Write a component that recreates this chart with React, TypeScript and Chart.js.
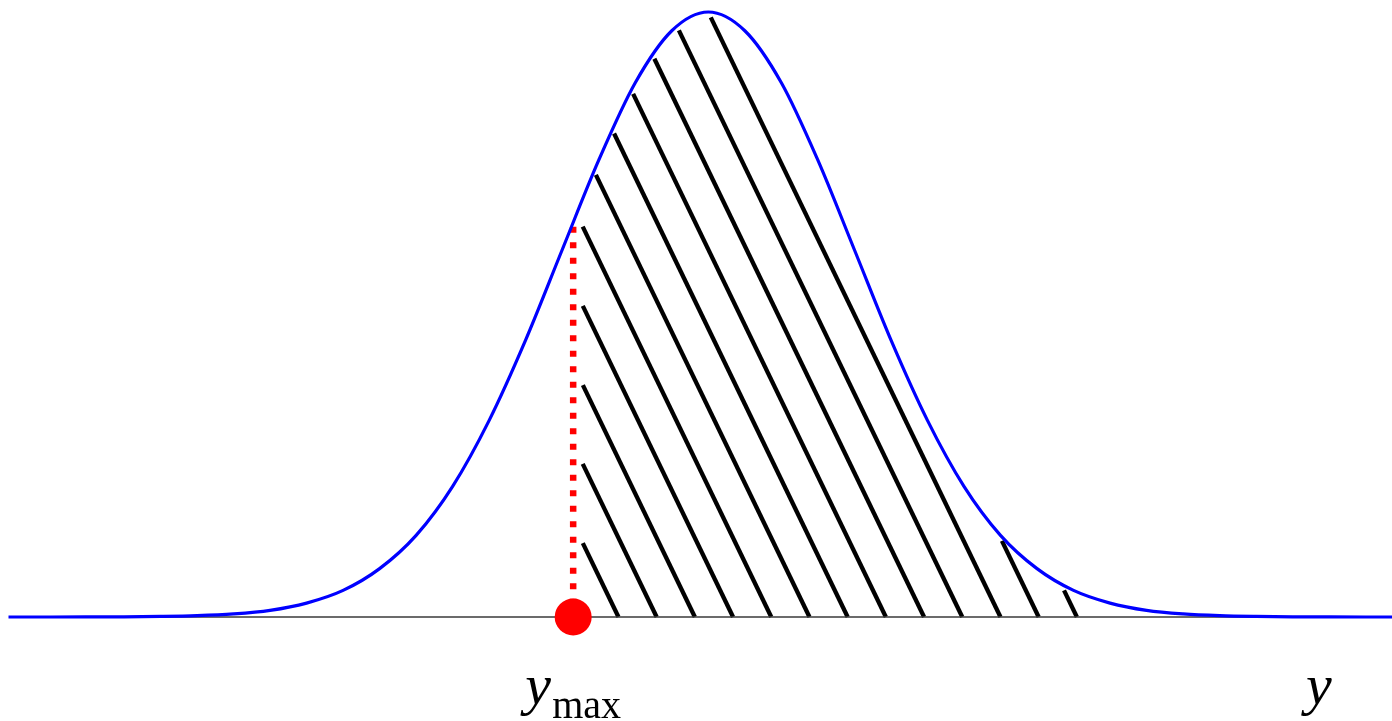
import React, { useEffect, useRef } from 'react';
import { Chart, registerables } from 'chart.js';

Chart.register(...registerables);

// Density curve (x in units of the curve's spread, peak at 0)
const curveX: number[] = [
  -5, -4.75, -4.5, -4.25, -4, -3.75, -3.5, -3.25, -3, -2.75, -2.5, -2.25, -2, -1.75, -1.5, -1.25, -1, -0.75, -0.5, -0.25,
  0, 0.25, 0.5, 0.75, 1, 1.25, 1.5, 1.75, 2, 2.25, 2.5, 2.75, 3, 3.25, 3.5, 3.75, 4, 4.25, 4.5, 4.75, 5,
];
const curveY: number[] = [
  0, 0, 0, 0.0001, 0.0003, 0.0009, 0.0022, 0.0051, 0.011, 0.023, 0.044, 0.08, 0.135, 0.216, 0.325, 0.458, 0.607, 0.755, 0.883, 0.969,
  1.0, 0.969, 0.883, 0.755, 0.607, 0.458, 0.325, 0.216, 0.135, 0.08, 0.044, 0.023, 0.011, 0.0051, 0.0022, 0.0009, 0.0003, 0.0001, 0, 0, 0,
];

// Marked position y_max and the curve height there
const yMaxPosition = -0.925;
const yMaxHeight = 0.645;

// Horizontal axis line
const baselineX: number[] = [-5, 5];
const baselineY: number[] = [0, 0];

// Text labels
const markerLabelMain = 'y';
const markerLabelSub = 'max';
const axisLabel = 'y';

// Axis range
const xMin = -4.78;
const xMax = 4.68;

const hatchPlugin = {
  id: 'hatchPlugin',
  beforeDatasetsDraw(chart: any) {
    const meta = chart.getDatasetMeta(1);
    const pts = meta.data as any[];
    if (!pts || !pts.length) return;
    const ctx = chart.ctx as CanvasRenderingContext2D;
    const xs = chart.scales.x;
    const ys = chart.scales.y;
    const area = chart.chartArea;
    const xr = xs.getPixelForValue(yMaxPosition);
    const y0 = ys.getPixelForValue(0);

    const region = new Path2D();
    region.moveTo(pts[0].x, y0 + 2);
    region.lineTo(pts[0].x, pts[0].y);
    for (let i = 1; i < pts.length; i++) {
      const p = pts[i - 1];
      const q = pts[i];
      if (p.cp2x !== undefined && q.cp1x !== undefined) {
        region.bezierCurveTo(p.cp2x, p.cp2y, q.cp1x, q.cp1y, q.x, q.y);
      } else {
        region.lineTo(q.x, q.y);
      }
    }
    region.lineTo(pts[pts.length - 1].x, y0 + 2);
    region.closePath();

    const spacing = 38.2;
    const slope = 2.07;
    const firstOffset = 45.3;
    const leftGap = 9.5;
    const marginX = 1;
    const marginY = 5;
    const minHeight = 20;
    const norm = Math.hypot(1, slope);
    const dx = -1 / norm;
    const dy = -slope / norm;

    ctx.save();
    ctx.strokeStyle = '#000000';
    ctx.lineWidth = 4.3;
    ctx.lineCap = 'butt';
    for (let k = 0; k < 60; k++) {
      const bx = xr + firstOffset + k * spacing;
      if (bx > area.right + 20) break;
      let ex = bx;
      let ey = y0;
      for (let t = 0.5; t < 900; t += 0.5) {
        const x = bx + dx * t;
        const y = y0 + dy * t;
        if (x < xr + leftGap || !ctx.isPointInPath(region, x - marginX, y - marginY)) break;
        ex = x;
        ey = y;
      }
      if (y0 - ey < minHeight) continue;
      ctx.beginPath();
      ctx.moveTo(bx, y0);
      ctx.lineTo(ex, ey);
      ctx.stroke();
    }
    ctx.restore();
  },
  afterDraw(chart: any) {
    const ctx = chart.ctx as CanvasRenderingContext2D;
    const xs = chart.scales.x;
    const area = chart.chartArea;
    const xr = xs.getPixelForValue(yMaxPosition);
    ctx.save();
    ctx.fillStyle = '#000000';
    ctx.textAlign = 'left';
    ctx.textBaseline = 'alphabetic';
    ctx.font = 'italic 58px "Liberation Serif", "Times New Roman", serif';
    ctx.fillText(markerLabelMain, xr - 48, 704);
    ctx.font = '40px "Liberation Serif", "Times New Roman", serif';
    ctx.fillText(markerLabelSub, xr - 21, 718);
    ctx.font = 'italic 58px "Liberation Serif", "Times New Roman", serif';
    ctx.fillText(axisLabel, area.right - 86, 704);
    ctx.restore();
  },
};

export default function App() {
  const ref = useRef<HTMLCanvasElement | null>(null);

  useEffect(() => {
    if (!ref.current) return;
    const chart = new Chart(ref.current, {
      type: 'line',
      data: {
        datasets: [
          {
            label: 'marker',
            data: [{ x: yMaxPosition, y: 0 }],
            showLine: false,
            pointRadius: 18.5,
            pointBackgroundColor: '#ff0000',
            pointBorderWidth: 0,
            pointBorderColor: '#ff0000',
            borderColor: '#ff0000',
            order: 0,
            clip: false as any,
          },
          {
            label: 'density',
            data: curveX.map((x, i) => ({ x, y: curveY[i] })),
            borderColor: '#0000ff',
            borderWidth: 3.2,
            pointRadius: 0,
            fill: false,
            cubicInterpolationMode: 'monotone',
            order: 1,
            clip: { left: 1.5, top: 5, right: 5, bottom: 5 } as any,
          },
          {
            label: 'drop',
            data: [
              { x: yMaxPosition, y: yMaxHeight },
              { x: yMaxPosition, y: 0 },
            ],
            borderColor: '#ff0000',
            borderWidth: 6.5,
            borderDash: [6, 9.5],
            borderCapStyle: 'butt',
            pointRadius: 0,
            fill: false,
            order: 2,
          },
          {
            label: 'axis',
            data: baselineX.map((x, i) => ({ x, y: baselineY[i] })),
            borderColor: '#3a3a3a',
            borderWidth: 1.5,
            pointRadius: 0,
            fill: false,
            order: 3,
            clip: { left: 0, top: 5, right: 5, bottom: 5 } as any,
          },
        ],
      },
      options: {
        responsive: false,
        maintainAspectRatio: false,
        animation: false,
        events: [],
        layout: { autoPadding: false, padding: { left: 10, right: 0, top: 12, bottom: 104 } },
        plugins: {
          legend: { display: false },
          tooltip: { enabled: false },
          title: { display: false },
        },
        scales: {
          x: { type: 'linear', display: false, min: xMin, max: xMax },
          y: { type: 'linear', display: false, min: 0, max: 1 },
        },
      },
      plugins: [hatchPlugin],
    });
    return () => chart.destroy();
  }, []);

  return (
    <div style={{ position: 'absolute', left: 0, top: 0, width: 1392, height: 721, background: '#ffffff' }}>
      <canvas ref={ref} width={1392} height={721} style={{ display: 'block' }} />
    </div>
  );
}
